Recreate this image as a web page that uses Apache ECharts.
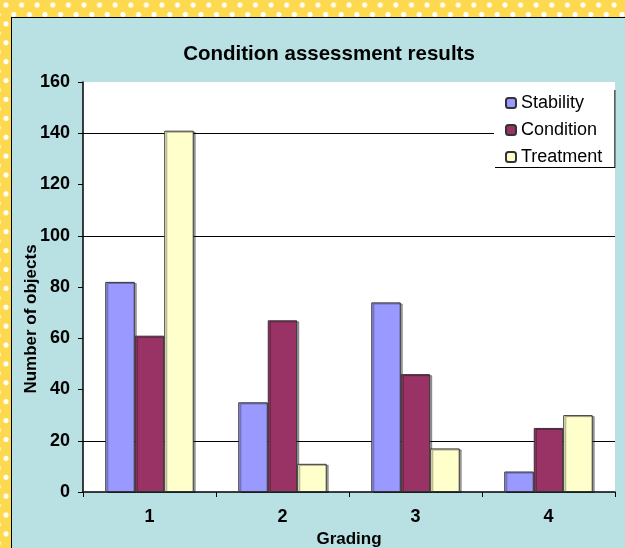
<!DOCTYPE html>
<html>
<head>
<meta charset="utf-8">
<script src="https://cdn.jsdelivr.net/npm/echarts@6/dist/echarts.min.js"></script>
<style>
    html, body { margin: 0; padding: 0; }
    body {
        width: 625px; height: 548px; overflow: hidden; position: relative;
        background-color: #fdd94f;
        background-image:
            radial-gradient(circle, #fff 2.2px, transparent 2.9px),
            radial-gradient(circle, #fff 2.2px, transparent 2.9px);
        background-size: 15.6px 18.9px;
        background-position: -1.8px -4.45px, 6px 5px;
    }
    .panel { position: absolute; left: 11px; top: 17px; width: 640px; height: 560px;
        background: #b9e0e3; border: 1px solid #000; }
    #chart { position: absolute; left: 0; top: 0; width: 625px; height: 548px; }
</style>
</head>
<body>
<div class="panel"></div>
<div id="chart"></div>
<script>
    // grading categories and counts per series
    const gradings = ['1', '2', '3', '4'];
    const stability = [82, 35, 74, 8];
    const condition = [61, 67, 46, 25];
    const treatment = [141, 11, 17, 30];

    const font = 'Liberation Sans, Arial, sans-serif';
    const chart = echarts.init(document.getElementById('chart'));

    // only some gridlines show in the original (20, 100, 140)
    const gridColors = ['transparent', '#000', 'transparent', 'transparent', 'transparent',
        '#000', 'transparent', '#000', 'transparent'];

    const barStyle = (color) => ({
        color: color,
        borderColor: '#333',
        borderWidth: 1,
        shadowColor: 'rgba(0,0,0,0.35)',
        shadowOffsetX: 2,
        shadowOffsetY: 1,
        shadowBlur: 0
    });

    const option = {
        animation: false,
        backgroundColor: 'transparent',
        title: {
            text: 'Condition assessment results',
            left: 324,
            textAlign: 'center',
            top: 39,
            textStyle: { fontFamily: font, fontSize: 20.5, fontWeight: 'bold', color: '#000' }
        },
        legend: {
            orient: 'vertical',
            left: 494,
            top: 89,
            backgroundColor: '#fff',
            borderWidth: 0,
            shadowColor: '#000',
            shadowOffsetX: 1,
            shadowOffsetY: 1,
            shadowBlur: 0,
            padding: [5, 12, 1, 11],
            itemWidth: 10,
            itemHeight: 10,
            itemGap: 9,
            textStyle: { fontFamily: font, fontSize: 18, color: '#000' },
            data: ['Stability', 'Condition', 'Treatment']
        },
        grid: {
            left: 83, right: 10, top: 82, bottom: 56,
            outerBoundsMode: 'none',
            show: true, backgroundColor: '#fff', borderWidth: 0
        },
        xAxis: {
            type: 'category',
            data: gradings,
            name: 'Grading',
            nameLocation: 'middle',
            nameGap: 39,
            nameMoveOverlap: false,
            nameTextStyle: { fontFamily: font, fontSize: 17, fontWeight: 'bold', color: '#000' },
            axisLine: { lineStyle: { color: '#000', width: 1.5 } },
            axisTick: { show: true, length: 5, lineStyle: { color: '#000' } },
            axisLabel: { margin: 16, fontFamily: font, fontSize: 18, fontWeight: 'bold', color: '#000' }
        },
        yAxis: {
            type: 'value',
            min: 0,
            max: 160,
            interval: 20,
            name: 'Number of objects',
            nameLocation: 'middle',
            nameGap: 43,
            nameMoveOverlap: false,
            nameTextStyle: { fontFamily: font, fontSize: 17, fontWeight: 'bold', color: '#000',
                padding: [0, 64, 0, 0] },
            axisLine: { show: true, lineStyle: { color: '#000', width: 1.5 } },
            axisTick: { show: true, length: 5, lineStyle: { color: '#000' } },
            axisLabel: { margin: 13, fontFamily: font, fontSize: 18, fontWeight: 'bold', color: '#000' },
            splitLine: { show: true, lineStyle: { color: gridColors, width: 1 } }
        },
        series: [{
            name: 'Stability',
            type: 'bar',
            data: stability,
            barGap: '0%',
            barCategoryGap: '33.5%',
            itemStyle: barStyle('#9999ff')
        }, {
            name: 'Condition',
            type: 'bar',
            data: condition,
            itemStyle: barStyle('#993366')
        }, {
            name: 'Treatment',
            type: 'bar',
            data: treatment,
            itemStyle: barStyle('#ffffcc')
        }]
    };

    chart.setOption(option);
</script>
</body>
</html>
